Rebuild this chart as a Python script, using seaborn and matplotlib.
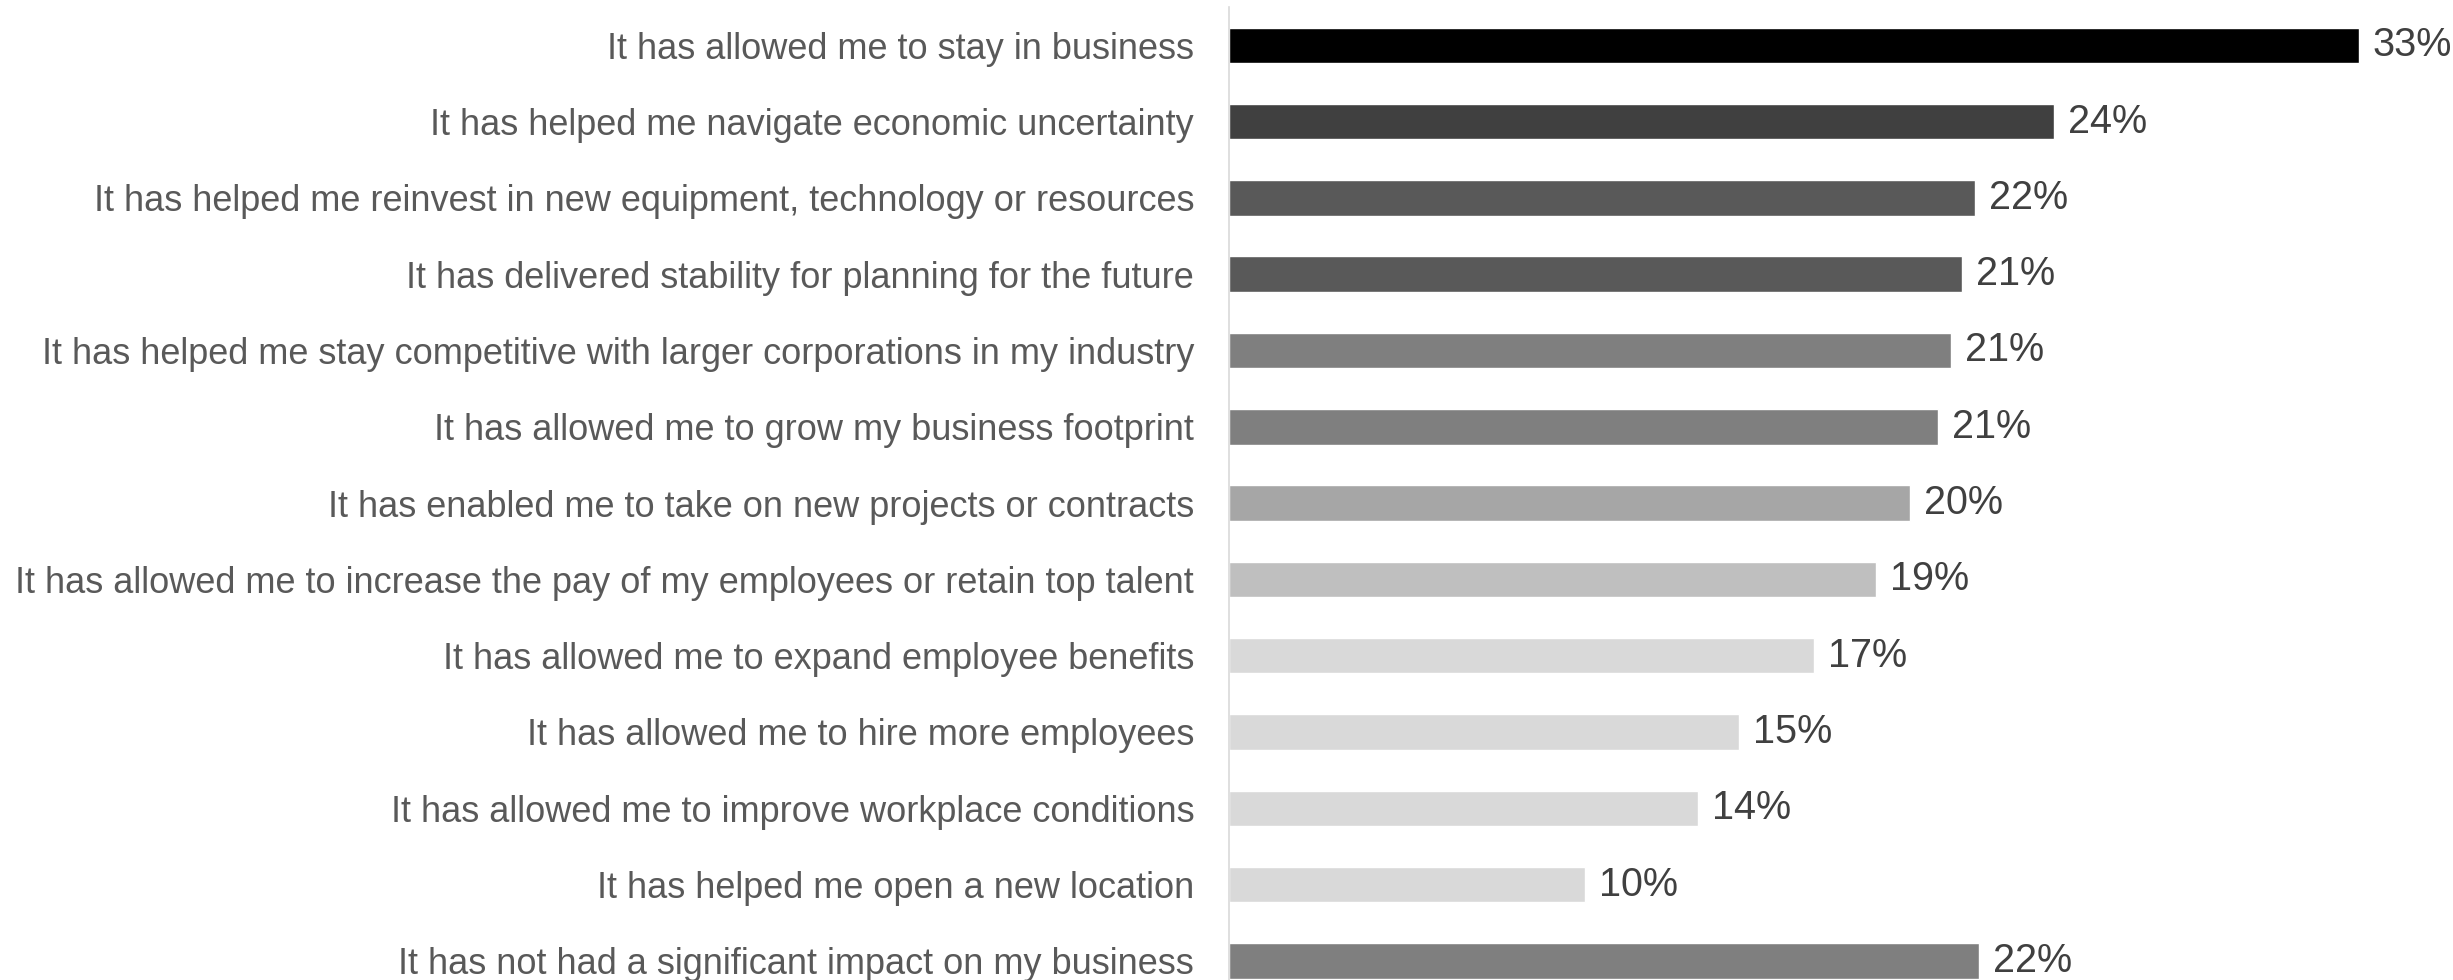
import matplotlib
matplotlib.use('Agg')
import matplotlib.pyplot as plt
import seaborn as sns
import pandas as pd

# survey answers, top to bottom
answers = ['It has allowed me to stay in business',
           'It has helped me navigate economic uncertainty',
           'It has helped me reinvest in new equipment, technology or resources',
           'It has delivered stability for planning for the future',
           'It has helped me stay competitive with larger corporations in my industry',
           'It has allowed me to grow my business footprint',
           'It has enabled me to take on new projects or contracts',
           'It has allowed me to increase the pay of my employees or retain top talent',
           'It has allowed me to expand employee benefits',
           'It has allowed me to hire more employees',
           'It has allowed me to improve workplace conditions',
           'It has helped me open a new location',
           'It has not had a significant impact on my business']
share = [33.0, 24.1, 21.8, 21.4, 21.1, 20.7, 19.9, 18.9, 17.1, 14.9, 13.7, 10.4, 21.9]
bar_colors = ['#000000', '#404040', '#595959', '#595959', '#7f7f7f', '#7f7f7f', '#a6a6a6',
              '#bfbfbf', '#d9d9d9', '#d9d9d9', '#d9d9d9', '#d9d9d9', '#7f7f7f']

df = pd.DataFrame({'answer': answers, 'share': share})

sns.set_style('white')
plt.rcParams['font.family'] = ['Liberation Sans Narrow', 'Liberation Sans', 'DejaVu Sans']

fig = plt.figure(figsize=(24.53, 9.8), dpi=100)
ax = fig.add_axes([0.501, -0.0194, 0.4885, 1.0121])
sns.barplot(data=df, y='answer', x='share', hue='answer', palette=bar_colors,
            legend=False, width=0.465, saturation=1, ax=ax)

for cont in ax.containers:
    ax.bar_label(cont, labels=[f'{round(v)}%' for v in cont.datavalues],
                 padding=10, fontsize=28.5, color='#404040')

ax.set_xlim(0, 35)
ax.set_ylim(12.5, -0.5)
ax.set_xlabel('')
ax.set_ylabel('')
ax.set_xticks([])
ax.tick_params(axis='y', length=0, pad=25, labelsize=26, labelcolor='#595959')
for s in ['top', 'right', 'bottom']:
    ax.spines[s].set_visible(False)
ax.spines['left'].set_color('#d9d9d9')
ax.spines['left'].set_linewidth(1.2)

fig.savefig('out.png', dpi=100)
